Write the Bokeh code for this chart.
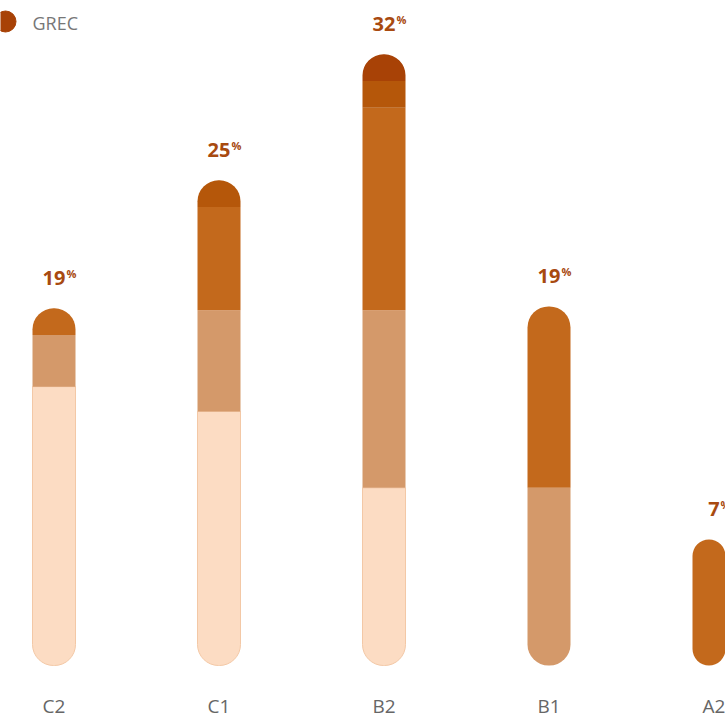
from bokeh.plotting import figure
from bokeh.models import Range1d, ColumnDataSource, Label
from bokeh.core.properties import value
from bokeh.embed import file_html
from bokeh.resources import INLINE

# ---- data ----
categories = ["C2", "C1", "B2", "B1", "A2"]
level1 = [14.6, 13.3, 9.3, 0.0, 0.0]   # lightest
level2 = [2.7, 5.3, 9.3, 9.3, 0.0]     # medium
level3 = [1.4, 5.4, 10.6, 9.5, 6.6]    # orange
level4 = [0.0, 1.4, 1.4, 0.0, 0.0]     # dark
level5 = [0.0, 0.0, 1.4, 0.0, 0.0]     # darkest
series_name = "GREC"

levels = [level1, level2, level3, level4, level5]
colors = ["#fcdcc3", "#d4996a", "#c3691c", "#b5570a", "#a84206"]
line_colors = ["#f3c8a6", None, None, None, None]

W, H = 725, 714
PX_X = 165.0          # px per category step
PX_Y = 19.1           # px per percent
x_start = -53.5 / PX_X
x_end = x_start + W / PX_X
y_start = -(H - 665) / PX_Y
y_end = y_start + H / PX_Y

p = figure(width=W, height=H, x_range=Range1d(x_start, x_end), y_range=Range1d(y_start, y_end),
           output_backend="svg", toolbar_location=None, min_border=0,
           x_axis_type=None, y_axis_type=None)
p.grid.visible = False
p.outline_line_color = None
p.background_fill_color = "white"
p.border_fill_color = "white"

BAR_W = 43 / PX_X
R = 21
xs = list(range(len(categories)))

# build segments grouped by corner type
groups = {"bottom": [], "top": [], "both": [], "none": []}
for i in xs:
    nz = [k for k in range(len(levels)) if levels[k][i] > 0]
    base = 0.0
    for k in range(len(levels)):
        v = levels[k][i]
        if v <= 0:
            continue
        if len(nz) == 1:
            g = "both"
        elif k == nz[0]:
            g = "bottom"
        elif k == nz[-1]:
            g = "top"
        else:
            g = "none"
        groups[g].append((i, base, base + v, colors[k], line_colors[k] or colors[k], 1 if line_colors[k] else 0))
        base += v

radii = {"bottom": (0, 0, R, R), "top": (R, R, 0, 0), "both": (R, R, R, R), "none": 0}
for g, segs in groups.items():
    if not segs:
        continue
    src = ColumnDataSource(dict(
        x=[s[0] for s in segs], bottom=[s[1] for s in segs], top=[s[2] for s in segs],
        fill=[s[3] for s in segs], line=[s[4] for s in segs], lw=[s[5] for s in segs]))
    p.vbar(x="x", bottom="bottom", top="top", width=BAR_W, source=src,
           fill_color="fill", line_color="line", line_width="lw", line_alpha=1.0,
           border_radius=radii[g])

# totals labels
totals = [sum(l[i] for l in levels) for i in xs]
tot_txt = [str(int(round(t))) for t in totals]
pct_off = [6.0 * len(t) + 0.5 for t in tot_txt]
src_t = ColumnDataSource(dict(x=xs, y=totals, t=tot_txt, off=pct_off, pct=["%"] * len(xs)))
p.text(x="x", y="y", text="t", source=src_t, text_align="center", text_baseline="middle",
       y_offset=-30, text_font=value("Open Sans"), text_font_style="bold",
       text_font_size="20px", text_color="#a84a10")
p.text(x="x", y="y", text="pct", source=src_t, text_align="left", text_baseline="middle",
       x_offset="off", y_offset=-35, text_font=value("Open Sans"), text_font_style="bold",
       text_font_size="11px", text_color="#a84a10")

# category labels
src_c = ColumnDataSource(dict(x=xs, y=[0] * len(xs), t=categories))
p.text(x="x", y="y", text="t", source=src_c, text_align="center", text_baseline="middle",
       y_offset=40, text_font=value("Open Sans"), text_font_size="19px", text_color="#666666")

# legend
p.scatter(x=[x_start + 5 / PX_X], y=[y_end - 21 / PX_Y], size=21, marker="circle",
          fill_color=colors[4], line_color=colors[4])
p.add_layout(Label(x=32, y=H - 22, x_units="screen", y_units="screen", text=series_name,
                   text_font="Open Sans", text_font_size="18px", text_color="#777777",
                   text_baseline="middle", text_align="left"))

open("out.html", "w").write(file_html(p, INLINE))
